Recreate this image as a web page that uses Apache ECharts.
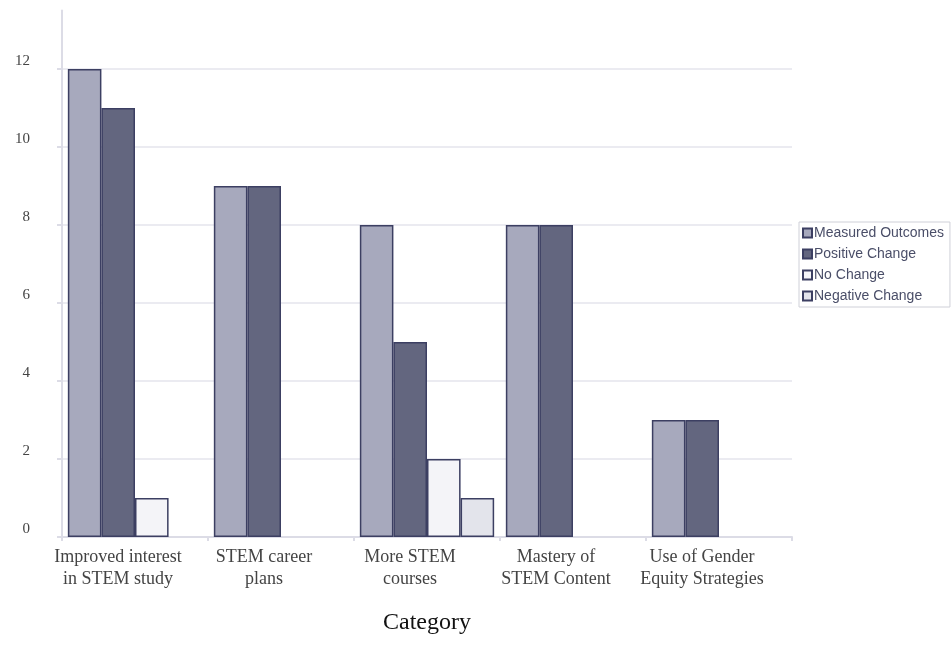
<!DOCTYPE html>
<html>
<head>
<meta charset="utf-8">
<script src="https://cdn.jsdelivr.net/npm/echarts@6/dist/echarts.min.js"></script>
<style>
  html, body { margin: 0; padding: 0; background: #ffffff; }
  #chart { width: 952px; height: 647px; }
</style>
</head>
<body>
<div id="chart"></div>
<script>
// Outcome categories along the x axis
const categories = [
  'Improved interest\nin STEM study',
  'STEM career\nplans',
  'More STEM\ncourses',
  'Mastery of\nSTEM Content',
  'Use of Gender\nEquity Strategies'
];

// Counts per outcome type
const measuredOutcomes = [12, 9, 8, 8, 3];
const positiveChange   = [11, 9, 5, 8, 3];
const noChange         = [1, 0, 2, 0, 0];
const negativeChange   = [0, 0, 1, 0, 0];

const seriesNames = ['Measured Outcomes', 'Positive Change', 'No Change', 'Negative Change'];
const seriesColors = ['#a7a9bd', '#63667f', '#f4f4f8', '#e3e4eb'];
const seriesData = [measuredOutcomes, positiveChange, noChange, negativeChange];

const edgeColor = '#3c3f62';
const serif = '"Liberation Serif", "Times New Roman", serif';

// empty counts leave the slot blank instead of drawing a flat outlined bar
const asBars = values => values.map(v => (v === 0 ? '-' : v));

const chart = echarts.init(document.getElementById('chart'), null, { renderer: 'canvas' });

chart.setOption({
  animation: false,
  backgroundColor: '#ffffff',
  grid: { left: 62, right: 160, top: 10.5, bottom: 110, containLabel: false },
  legend: {
    orient: 'vertical',
    left: 799,
    top: 222,
    padding: [4, 6, 4, 3],
    itemWidth: 9,
    itemHeight: 9,
    itemGap: 7,
    icon: 'rect',
    borderColor: '#cfd0d8',
    borderWidth: 1,
    textStyle: { fontFamily: 'Liberation Sans, Arial, sans-serif', fontSize: 14, color: '#4a4e68', padding: [0, 0, 0, -3] },
    data: seriesNames
  },
  xAxis: {
    type: 'category',
    data: categories,
    name: 'Category',
    nameLocation: 'middle',
    nameGap: 74,
    nameTextStyle: { fontFamily: serif, fontSize: 24, color: '#111111' },
    axisLine: { show: true, lineStyle: { color: '#dcdce6', width: 2 } },
    axisTick: { show: true, length: 4, lineStyle: { color: '#dcdce6', width: 2 } },
    axisLabel: {
      interval: 0,
      fontFamily: serif,
      fontSize: 18,
      color: '#444444',
      lineHeight: 22,
      margin: 9,
      padding: [0, 34, 0, 0]
    }
  },
  yAxis: {
    type: 'value',
    min: 0,
    max: 13.5,
    interval: 2,
    axisLine: { show: true, lineStyle: { color: '#dcdce6', width: 2 } },
    axisTick: { show: true, length: 5, lineStyle: { color: '#dcdce6', width: 2 } },
    axisLabel: {
      fontFamily: serif,
      fontSize: 15,
      color: '#444444',
      margin: 32,
      lineHeight: 16,
      verticalAlign: 'bottom',
      showMaxLabel: false
    },
    splitLine: { show: true, showMaxLine: false, lineStyle: { color: '#e4e4ec', width: 1.5 } }
  },
  series: seriesNames.map((name, i) => ({
    name: name,
    type: 'bar',
    data: asBars(seriesData[i]),
    barGap: '0%',
    barCategoryGap: '8%',
    itemStyle: { color: seriesColors[i], borderColor: edgeColor, borderWidth: 1.5 }
  }))
});
</script>
</body>
</html>
